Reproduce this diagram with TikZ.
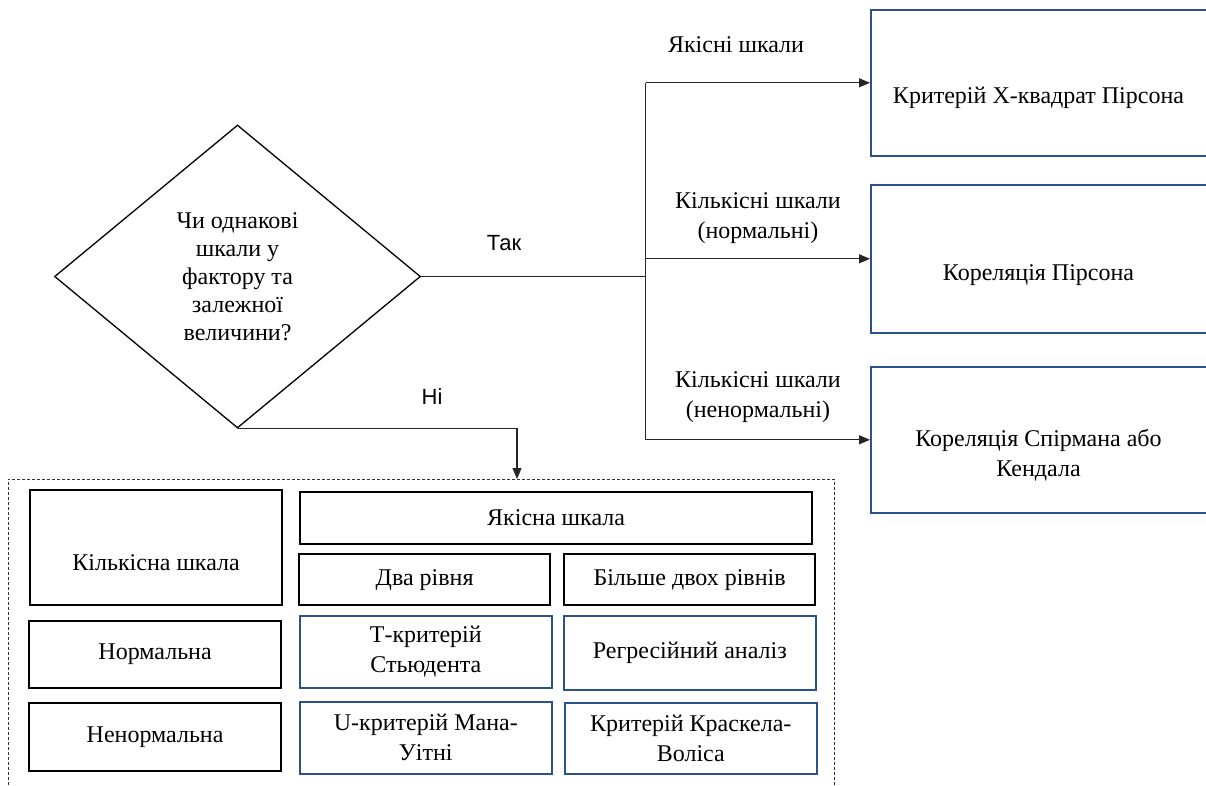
\documentclass[tikz,border=0pt]{standalone}
\usepackage{fontspec}
\setmainfont{Liberation Serif}
\newfontfamily\sansf{Liberation Sans}
\usetikzlibrary{shapes.geometric,arrows.meta}
\definecolor{boxblue}{RGB}{44,82,140}
\newcommand\txtf{\fontsize{24}{30}\selectfont}
\newcommand\dtxtf{\fontsize{24}{27.9}\selectfont}
\begin{document}
\begin{tikzpicture}[x=1pt,y=-1pt,
  conn/.style={draw=black!85,line width=1.1pt},
  arr/.style={conn,-{Triangle[length=11pt,width=9pt]}},
  blk/.style={draw=black,line width=2.2pt,inner sep=0pt,anchor=north west,align=center,font=\txtf},
  blu/.style={draw=boxblue,line width=1.6pt,inner sep=0pt,anchor=north west,align=center,font=\txtf},
  lbl/.style={inner sep=0pt,align=center,font=\txtf},
  yn/.style={inner sep=0pt,font=\sansf\fontsize{22}{26}\selectfont}]
\useasboundingbox (0,0) rectangle (1206,785);
% decision
\node[diamond,draw=black,line width=1.3pt,minimum width=366pt,minimum height=303pt,inner sep=0pt,align=center,font=\dtxtf] (q) at (237.5,276.5)
  {Чи однакові\\шкали у\\фактору та\\залежної\\величини?};
% right boxes
\node[blu,minimum width=340pt,minimum height=146pt] (b1) at (870,9) {};
\node[blu,minimum width=340pt,minimum height=148pt] (b2) at (870,184) {};
\node[blu,minimum width=340pt,minimum height=146pt] (b3) at (870,366) {};
\node[lbl] (t1) at (1038.5,98) {Критерій Х-квадрат Пірсона};
\node[lbl] (t2) at (1038.5,275) {Кореляція Пірсона};
\node[lbl] (t3) at (1038.5,455) {Кореляція Спірмана або\\Кендала};
% connectors right
\coordinate (jn) at (645.5,276.5);
\draw[conn] (q.east) -- (jn);
\draw[conn] (jn |- b1.west) -- (jn |- b3.west);
\draw[arr] (jn |- b1.west) -- (b1.west);
\draw[arr] (jn |- b2.west) -- (b2.west);
\draw[arr] (jn |- b3.west) -- (b3.west);
\node[lbl] (l1) at (736,45) {Якісні шкали};
\node[lbl] (l2) at (758,218) {Кількісні шкали\\(нормальні)};
\node[lbl] (l3) at (758,397.5) {Кількісні шкали\\(ненормальні)};
\node[yn] (yes) at (504,243) {Так};
\node[yn] (no) at (432,397) {Ні};
% dashed frame
\coordinate (dtop) at (517,479);
\draw[black!80,line width=0.8pt,dash pattern=on 3pt off 2pt] (8,790) -- (8,479) -- (834,479) -- (834,790);
\draw[arr] (q.south) -| (dtop);
% bottom boxes
\node[blk,minimum width=252pt,minimum height=115pt] (kq) at (29,489) {};
\node[lbl] (kqt) at ([yshift=-15pt]kq.center) {Кількісна шкала};
\node[blk,minimum width=512pt,minimum height=52pt] (yq) at (299,491) {Якісна шкала};
\node[blk,minimum width=251pt,minimum height=51pt] (two) at (298,553) {Два рівня};
\node[blk,minimum width=251pt,minimum height=51pt] (more) at (563,553) {Більше двох рівнів};
\node[blk,minimum width=252pt,minimum height=67pt] (norm) at (28,620) {Нормальна};
\node[blu,minimum width=252pt,minimum height=72pt] (tst) at (299,615) {Т-критерій\\Стьюдента};
\node[blu,minimum width=252pt,minimum height=74pt] (reg) at (563,615) {Регресійний аналіз};
\node[blk,minimum width=252pt,minimum height=68pt] (nonn) at (28,702) {Ненормальна};
\node[blu,minimum width=252pt,minimum height=72pt] (mw) at (299,701) {U-критерій Мана-\\Уітні};
\node[blu,minimum width=252pt,minimum height=71pt] (kw) at (564,702) {Критерій Краскела-\\Воліса};
\end{tikzpicture}
\end{document}
